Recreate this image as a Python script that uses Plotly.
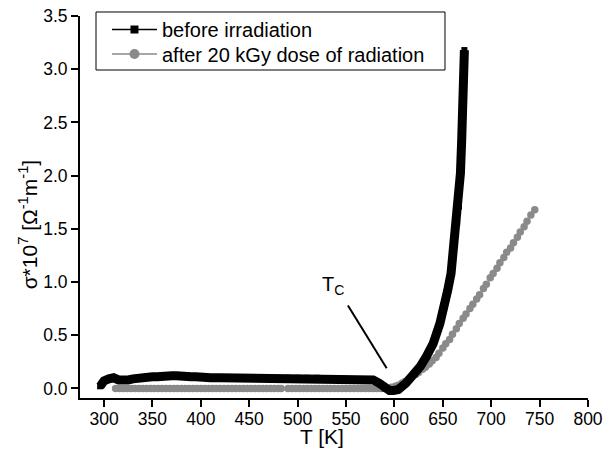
import plotly.graph_objects as go

# before irradiation (black squares)
before_T = [296, 300, 305, 310, 315, 320, 325, 330, 335, 340, 345, 350, 355, 360, 365, 370,
            375, 380, 385, 390, 395, 400, 410, 420, 430, 440, 450, 460, 470, 480, 490, 500,
            510, 520, 530, 540, 550, 560, 570, 578, 584, 590, 595, 599,
            604, 612, 621, 627, 633, 640, 647, 652, 655, 658.5, 660.5, 662.6, 664.8, 666.7,
            668.2, 669.5, 671, 671.8, 672.3]
before_s = [0.02, 0.07, 0.09, 0.10, 0.08, 0.07, 0.08, 0.09, 0.10, 0.10, 0.11, 0.11, 0.11, 0.12, 0.12, 0.12,
            0.12, 0.11, 0.11, 0.11, 0.11, 0.10, 0.10, 0.10, 0.10, 0.10, 0.10, 0.10, 0.10, 0.10, 0.10, 0.10,
            0.10, 0.10, 0.09, 0.09, 0.09, 0.08, 0.08, 0.08, 0.05, 0.0, -0.02, -0.02,
            -0.01, 0.05, 0.14, 0.21, 0.30, 0.42, 0.61, 0.77, 0.92, 1.08, 1.25, 1.40, 1.56, 1.71,
            2.02, 2.33, 2.65, 2.90, 3.18]

# after 20 kGy dose of radiation (grey circles)
after_T = [312, 316, 320, 324, 328, 332, 336, 340, 344, 348, 352, 356, 360, 364, 368, 372,
           376, 380, 384, 388, 392, 396, 400, 404, 408, 412, 416, 420, 424, 428, 432, 436,
           440, 444, 448, 452, 456, 460, 464, 468, 472, 476, 480, 483,
           490, 494, 498, 502, 506, 510, 514, 518, 522, 526, 530, 534, 538, 542, 546, 550,
           554, 558, 562, 566, 570, 574, 578, 582, 586, 590,
           594, 597, 601, 604, 608, 611, 615, 618, 622, 625, 629, 632, 636, 639, 643, 646,
           650, 653, 657, 660, 664, 667, 671, 674, 678, 681, 685, 688, 692, 695, 699, 702,
           706, 709, 713, 716, 720, 723, 727, 730, 734, 737, 741, 745]
after_s = [0.0, 0.0, 0.0, 0.0, 0.0, 0.0, 0.0, 0.0, 0.0, 0.0, 0.0, 0.0, 0.0, 0.0, 0.0, 0.0,
           0.0, 0.0, 0.0, 0.0, 0.0, 0.0, 0.0, 0.0, 0.0, 0.0, 0.0, 0.0, 0.0, 0.0, 0.0, 0.0,
           0.0, 0.0, 0.0, 0.0, 0.0, 0.0, 0.0, 0.0, 0.0, 0.0, 0.0, 0.0,
           0.0, 0.0, 0.0, 0.0, 0.0, 0.0, 0.0, 0.0, 0.0, 0.0, 0.0, 0.0, 0.0, 0.0, 0.0, 0.0,
           0.0, 0.0, 0.0, 0.0, 0.0, 0.0, 0.0, 0.0, 0.0, 0.0,
           0.0, 0.01, 0.02, 0.03, 0.05, 0.065, 0.09, 0.11, 0.13, 0.15, 0.18, 0.20, 0.23, 0.26, 0.29, 0.33,
           0.38, 0.42, 0.46, 0.51, 0.56, 0.61, 0.66, 0.70, 0.75, 0.79, 0.84, 0.88, 0.94, 0.98, 1.04, 1.08,
           1.13, 1.18, 1.23, 1.28, 1.32, 1.37, 1.42, 1.47, 1.52, 1.57, 1.63, 1.68]

x_ticks = [300, 350, 400, 450, 500, 550, 600, 650, 700, 750, 800]
y_ticks = [0.0, 0.5, 1.0, 1.5, 2.0, 2.5, 3.0, 3.5]

BLACK = "#000000"
GREY = "#8a8a8a"
FONT = "Liberation Sans, Arial, Helvetica, sans-serif"

fig = go.Figure()

fig.add_trace(go.Scatter(x=after_T, y=after_s, mode="lines+markers",
                         line=dict(color=GREY, width=1),
                         marker=dict(symbol="circle", size=7.5, color=GREY),
                         showlegend=False))
fig.add_trace(go.Scatter(x=before_T, y=before_s, mode="lines+markers",
                         line=dict(color=BLACK, width=9),
                         marker=dict(symbol="square", size=6, color=BLACK),
                         showlegend=False))

# legend entries (one legend per row, common frame drawn as a shape)
fig.add_trace(go.Scatter(x=[None], y=[None], mode="lines+markers", name="before irradiation",
                         line=dict(color=BLACK, width=1.5),
                         marker=dict(symbol="square", size=8, color=BLACK), legend="legend"))
fig.add_trace(go.Scatter(x=[None], y=[None], mode="lines+markers", name="after 20 kGy dose of radiation",
                         line=dict(color=GREY, width=1.5),
                         marker=dict(symbol="circle", size=10, color=GREY), legend="legend2"))

fig.add_shape(type="rect", xref="paper", yref="paper", x0=0.0315, x1=0.7185, y0=0.8586, y1=1.0105,
              line=dict(color=BLACK, width=1), fillcolor="white", layer="above")

# Tc pointer
fig.add_shape(type="line", xref="x", yref="y", x0=552, y0=0.78, x1=592, y1=0.19,
              line=dict(color=BLACK, width=2))
fig.add_annotation(x=537, y=0.97, xref="x", yref="y", text="T<sub>C</sub>",
                   showarrow=False, font=dict(family=FONT, size=20, color=BLACK),
                   xanchor="center", yanchor="middle")

# axis titles
fig.add_annotation(x=0.476, y=-0.102, xref="paper", yref="paper", text="T [K]",
                   showarrow=False, font=dict(family=FONT, size=21, color=BLACK),
                   xanchor="center", yanchor="middle")
fig.add_annotation(x=-0.102, y=0.455, xref="paper", yref="paper",
                   text="σ*10<sup>7</sup> [Ω<sup>-1</sup>m<sup>-1</sup>]", textangle=-90,
                   showarrow=False, font=dict(family=FONT, size=21, color=BLACK),
                   xanchor="center", yanchor="middle")

legend_common = dict(xref="paper", yref="paper", xanchor="left",
                     bgcolor="rgba(0,0,0,0)", borderwidth=0, itemwidth=45,
                     font=dict(family=FONT, size=20, color=BLACK))
fig.update_layout(
    width=606, height=451,
    margin=dict(l=80, r=18, t=16, b=53, autoexpand=False),
    paper_bgcolor="white", plot_bgcolor="white",
    font=dict(family=FONT, size=17.5, color=BLACK),
    legend=dict(x=0.0531, y=1.0157, yanchor="top", **legend_common),
    legend2=dict(x=0.0531, y=0.9005, yanchor="middle", **legend_common),
)
fig.update_xaxes(range=[275.2, 800], tickvals=x_ticks, ticktext=[str(v) for v in x_ticks],
                 showgrid=False, zeroline=False, showline=True, linecolor=BLACK, linewidth=2,
                 ticks="outside", ticklen=7, tickwidth=1.5, tickcolor=BLACK,
                 ticklabelstandoff=-3,
                 tickfont=dict(family=FONT, size=17.5, color=BLACK))
fig.update_yaxes(range=[-0.09, 3.5], tickvals=y_ticks, ticktext=["%.1f" % v for v in y_ticks],
                 showgrid=False, zeroline=False, showline=True, linecolor=BLACK, linewidth=2,
                 ticks="outside", ticklen=7, tickwidth=1.5, tickcolor=BLACK,
                 tickfont=dict(family=FONT, size=17.5, color=BLACK))

fig.write_html("out.html", config={"displayModeBar": False},
               post_script="document.body.style.margin='0';document.body.style.padding='0';")
